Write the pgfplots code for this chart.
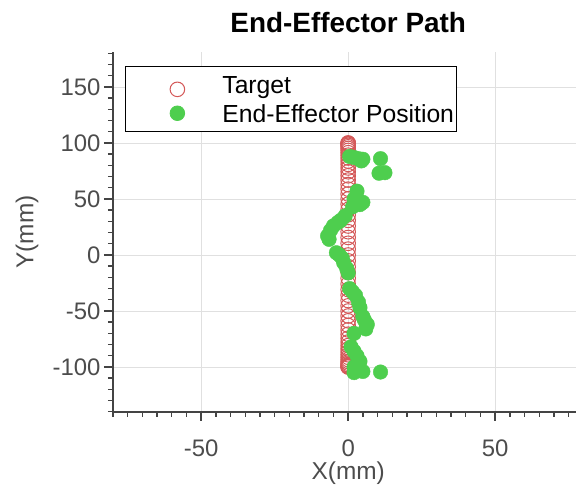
\documentclass[border=0pt]{standalone}
\usepackage{pgfplots}
\pgfplotsset{compat=1.18}
\usepackage{fontspec}
\setmainfont{Liberation Sans}
\definecolor{tgtred}{RGB}{212,88,88}
\definecolor{eegreen}{RGB}{78,206,78}
\definecolor{axgray}{RGB}{68,68,68}
\definecolor{lblgray}{RGB}{76,76,76}
\newcommand{\lstrut}{\rule[-8.6bp]{0pt}{29bp}}
\pgfplotsset{greenleg/.style={legend image code/.code={\path[draw=none, fill=none] (0bp,0bp) -- (95bp,0bp);
    \draw[##1] plot coordinates {(52bp,0bp)};}}}
\begin{document}
\begin{tikzpicture}
\begin{axis}[
  scale only axis,
  width=463bp, height=359.8bp,
  xmin=-80, xmax=77.5, ymin=-140, ymax=181.25,
  axis lines*=left,
  axis line style={draw=axgray, line width=1.6bp},
  every tick/.style={draw=axgray, line width=1.4bp},
  tick align=outside,
  major tick length=9bp, minor tick length=5bp,
  xtick={-50,0,50}, ytick={-100,-50,0,50,100,150},
  minor xtick={-80,-75,...,75}, minor ytick={-140,-130,...,180},
  grid=major,
  major grid style={draw=black!12, line width=0.8bp},
  /pgf/number format/assume math mode=true,
  ticklabel style={font=\fontsize{24}{24}\selectfont, text=lblgray},
  xticklabel style={yshift=-15bp},
  xlabel={X(mm)}, ylabel={Y(mm)},
  xlabel style={font=\fontsize{24.5}{24.5}\selectfont, text=lblgray, at={(rel axis cs:0.508,-0.172)}, anchor=center},
  ylabel style={font=\fontsize{24.5}{24.5}\selectfont, text=lblgray, at={(rel axis cs:-0.1857,0.5)}, anchor=center},
  title={End-Effector Path},
  title style={font=\bfseries\fontsize{28}{28}\selectfont, at={(rel axis cs:0.508,1.065)}, anchor=center},
  legend style={at={(0.0259,0.961)}, anchor=north west, draw=black, line width=0.8bp,
    font=\fontsize{24.8}{24.8}\selectfont, inner xsep=0bp, inner ysep=5bp, row sep=3bp,
    cells={anchor=west}},
  legend image code/.code={\path[draw=none, fill=none] (0bp,0bp) -- (95bp,0bp);
    \draw[#1] plot coordinates {(52bp,-5bp)};},
]
\addplot[only marks, mark=o, mark size=7.3bp, draw=tgtred, line width=1bp] coordinates {
(0,100.00) (0,99.86) (0,99.45) (0,98.77) (0,97.81) (0,96.59) (0,95.11) (0,93.36) (0,91.35) (0,89.10)
(0,86.60) (0,83.87) (0,80.90) (0,77.71) (0,74.31) (0,70.71) (0,66.91) (0,62.93) (0,58.78) (0,54.46)
(0,50.00) (0,45.40) (0,40.67) (0,35.84) (0,30.90) (0,25.88) (0,20.79) (0,15.64) (0,10.45) (0,5.23)
(0,0.00)
(0,-5.23) (0,-10.45) (0,-15.64) (0,-20.79) (0,-25.88) (0,-30.90) (0,-35.84) (0,-40.67) (0,-45.40) (0,-50.00)
(0,-54.46) (0,-58.78) (0,-62.93) (0,-66.91) (0,-70.71) (0,-74.31) (0,-77.71) (0,-80.90) (0,-83.87) (0,-86.60)
(0,-89.10) (0,-91.35) (0,-93.36) (0,-95.11) (0,-96.59) (0,-97.81) (0,-98.77) (0,-99.45) (0,-99.86) (0,-100.00)
};
\addlegendentry{\lstrut Target}
\addplot[only marks, mark=*, mark size=7.3bp, draw=eegreen, fill=eegreen, greenleg] coordinates {
(0.5,88) (2,87) (3.5,86) (5,85.5) (4.5,84) (11,86) (10.5,73) (12.5,73.5)
(3,57) (2,50) (5,47) (4,45) (1.5,43) (-1,35) (-2.5,31) (-3.5,29) (-5,26) (-6,22) (-7,17) (-6.5,14)
(-4,2) (-3,0) (-2,-3) (-1.5,-7) (-0.5,-12) (0,-16)
(0.5,-30) (1.5,-33) (2.5,-36) (3.5,-42) (4,-47) (5,-55) (5.5,-58) (6.5,-62) (6,-66) (2,-70)
(1,-82) (2,-86) (3,-90) (4,-95) (2,-100) (2,-105) (5,-104) (11,-104.5)
};
\addlegendentry{\lstrut End-Effector Position\hspace{7bp}}
\coordinate (O) at (rel axis cs:0,0);
\coordinate (T) at (rel axis cs:1,1);
\end{axis}
\pgfresetboundingbox
\path[use as bounding box] ([xshift=-113bp,yshift=-74bp]O) rectangle ([yshift=52bp]T);
\end{tikzpicture}
\end{document}
